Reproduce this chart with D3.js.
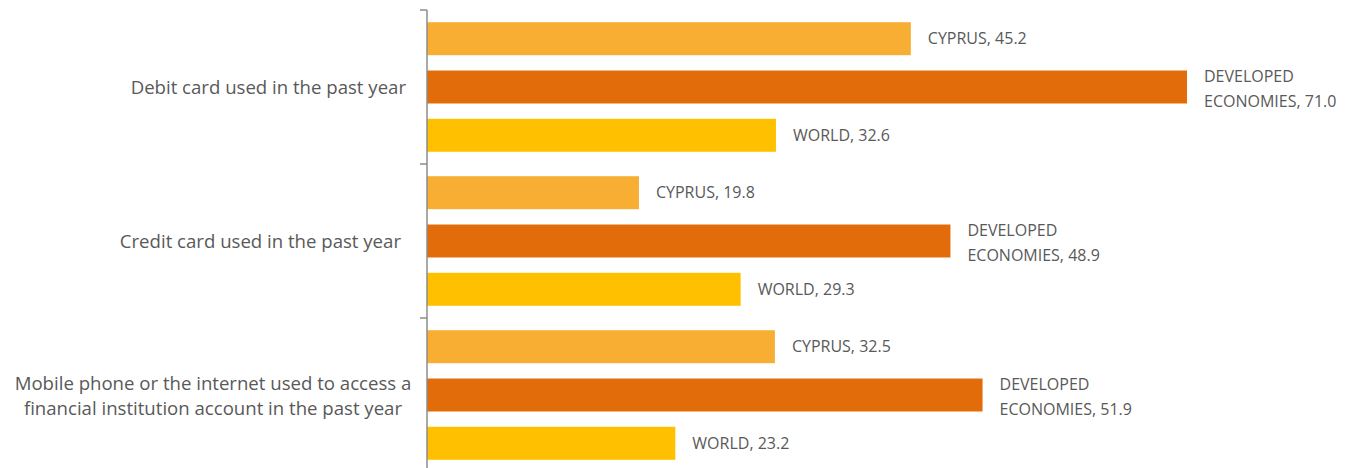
<!DOCTYPE html>
<html>
<head>
<meta charset="utf-8">
<script src="https://cdn.jsdelivr.net/npm/d3@7"></script>
<style>
  html, body { margin: 0; padding: 0; background: #fff; }
  svg text { font-family: "Open Sans", sans-serif; fill: #595959; }
</style>
</head>
<body>
<div id="chart"></div>
<script>
// categories, top to bottom
const categories = [
  ["Debit card used in the past year"],
  ["Credit card used in the past year"],
  ["Mobile phone or the internet used to access a", "financial institution account in the past year"]
];
const seriesNames = ["CYPRUS", "DEVELOPED ECONOMIES", "WORLD"];
const cyprus = [45.2, 19.8, 32.5];
const developed = [71.0, 48.9, 51.9];
const world = [32.6, 29.3, 23.2];
const colors = ["#F7AE33", "#E36C0A", "#FFC000"];

const width = 1350, height = 468;
const axisX = 427;

const svg = d3.select("#chart").append("svg")
  .attr("width", width)
  .attr("height", height);

const rows = categories.map((c, i) => ({
  key: i,
  lines: c,
  values: [cyprus[i], developed[i], world[i]]
}));

// Scales
const yScale = d3.scaleBand()
  .domain(rows.map(d => d.key))
  .range([10, 10 + 154 * 3]);

const ySub = d3.scaleBand()
  .domain(d3.range(seriesNames.length))
  .range([0, yScale.bandwidth()])
  .paddingInner(0.317)
  .paddingOuter(0.253);

const xScale = d3.scaleLinear()
  .domain([0, 71.0])
  .range([axisX, 1187]);

// Bars
const groups = svg.selectAll(".grp")
  .data(rows)
  .enter().append("g")
  .attr("class", "grp")
  .attr("transform", d => `translate(0,${yScale(d.key)})`);

groups.selectAll("rect")
  .data(d => d.values.map((v, s) => ({ v, s })))
  .enter().append("rect")
  .attr("x", xScale(0))
  .attr("y", d => ySub(d.s))
  .attr("width", d => xScale(d.v) - xScale(0))
  .attr("height", ySub.bandwidth())
  .attr("fill", d => colors[d.s]);

// Data labels
groups.selectAll(".lbl")
  .data(d => d.values.map((v, s) => ({ v, s })))
  .enter().append("text")
  .attr("class", "lbl")
  .attr("font-size", 16)
  .attr("x", d => xScale(d.v) + 17)
  .attr("y", d => ySub(d.s) + ySub.bandwidth() / 2)
  .each(function(d) {
    const t = d3.select(this);
    const val = d.v.toFixed(1);
    if (d.s === 1) {
      t.append("tspan").attr("x", xScale(d.v) + 17).attr("dy", "-0.3em").text("DEVELOPED");
      t.append("tspan").attr("x", xScale(d.v) + 17).attr("dy", "1.56em").text("ECONOMIES, " + val);
    } else {
      t.attr("dy", "0.36em").text(seriesNames[d.s] + ", " + val);
    }
  });

// Category axis line + group separator ticks
const axis = svg.append("g")
  .attr("transform", `translate(${axisX},0)`);

const sepTicks = d3.range(rows.length + 1).map(i => i === rows.length ? yScale.range()[1] : yScale(i));
axis.append("line")
  .attr("x1", 0).attr("x2", 0)
  .attr("y1", yScale.range()[0]).attr("y2", yScale.range()[1])
  .attr("stroke", "#8c8c8c").attr("stroke-width", 1.5);
axis.selectAll(".sep")
  .data(sepTicks)
  .enter().append("line")
  .attr("class", "sep")
  .attr("x1", -7).attr("x2", 0)
  .attr("y1", d => d).attr("y2", d => d)
  .attr("stroke", "#8c8c8c").attr("stroke-width", 1.5);

// Category labels
svg.selectAll(".cat")
  .data(rows)
  .enter().append("text")
  .attr("class", "cat")
  .attr("font-size", 18.6)
  .attr("text-anchor", d => d.lines.length > 1 ? "middle" : "end")
  .attr("x", (d, i) => d.lines.length > 1 ? 213 : (i === 1 ? 401 : 406))
  .attr("y", d => yScale(d.key) + yScale.bandwidth() / 2)
  .each(function(d) {
    const t = d3.select(this);
    if (d.lines.length === 1) {
      t.attr("dy", "0.35em").text(d.lines[0]);
    } else {
      d.lines.forEach((l, k) => {
        t.append("tspan")
          .attr("x", 213)
          .attr("dy", k === 0 ? "-0.25em" : "1.3em")
          .text(l);
      });
    }
  });
</script>
</body>
</html>
